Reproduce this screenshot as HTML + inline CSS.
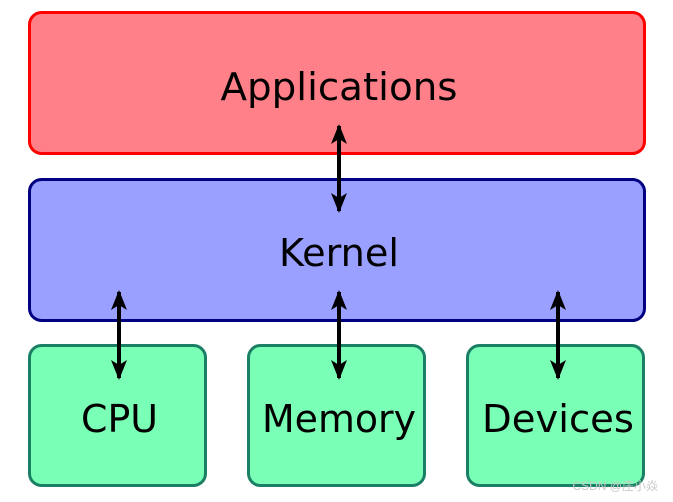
<!DOCTYPE html>
<html><head><meta charset="utf-8"><style>html,body{margin:0;padding:0;background:#fff;width:673px;height:502px;overflow:hidden}</style></head>
<body>
<svg width="673" height="502" viewBox="0 0 673 502" xmlns="http://www.w3.org/2000/svg">
<defs>
<marker id="ah" viewBox="0 0 20 16" refX="18" refY="8" markerWidth="20" markerHeight="16" markerUnits="userSpaceOnUse" orient="auto-start-reverse">
<path d="M0,0 L20,8 L0,16 L5,8 Z" fill="#000"/>
</marker>
</defs>
<rect x="29.5" y="12.5" width="615" height="141" rx="12" fill="#ff8088" stroke="#ff0000" stroke-width="3"/>
<rect x="29.5" y="179.5" width="615" height="141" rx="12" fill="#9aa0ff" stroke="#000080" stroke-width="3"/>
<rect x="29.5" y="345.5" width="176" height="140" rx="12" fill="#7affb6" stroke="#1a7f64" stroke-width="3"/>
<rect x="248.5" y="345.5" width="176" height="140" rx="12" fill="#7affb6" stroke="#1a7f64" stroke-width="3"/>
<rect x="467.5" y="345.5" width="176" height="140" rx="12" fill="#7affb6" stroke="#1a7f64" stroke-width="3"/>
<g font-family="DejaVu Sans, Liberation Sans, sans-serif" font-size="38" fill="#000" text-anchor="middle">
<text x="339" y="100" textLength="237" lengthAdjust="spacingAndGlyphs">Applications</text>
<text x="339" y="266" textLength="120" lengthAdjust="spacingAndGlyphs">Kernel</text>
<text x="119.5" y="432" textLength="77" lengthAdjust="spacingAndGlyphs">CPU</text>
<text x="339" y="432" textLength="154" lengthAdjust="spacingAndGlyphs">Memory</text>
<text x="558" y="432" textLength="152" lengthAdjust="spacingAndGlyphs">Devices</text>
</g>
<g stroke="#000" stroke-width="4" marker-start="url(#ah)" marker-end="url(#ah)">
<line x1="339" y1="126" x2="339" y2="211"/>
<line x1="119" y1="292" x2="119" y2="378"/>
<line x1="339" y1="292" x2="339" y2="378"/>
<line x1="558" y1="292" x2="558" y2="378"/>
</g>
<text x="658" y="490" text-anchor="end" font-family="Liberation Sans, Noto Sans CJK SC, sans-serif" font-size="12" fill="#c8c8c8">CSDN @庄小焱</text>
</svg>
</body></html>
